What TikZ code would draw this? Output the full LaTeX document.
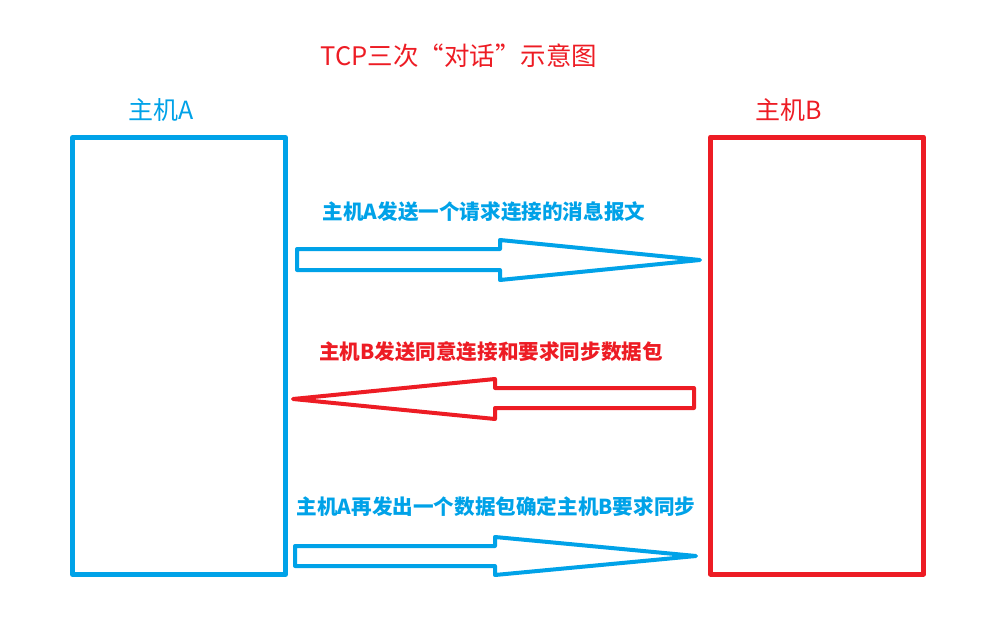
\documentclass[tikz,border=0pt]{standalone}
\usepackage{fontspec}
\newfontfamily\cjk{Noto Sans CJK SC}
\definecolor{hostblue}{HTML}{00A2E8}
\definecolor{hostred}{HTML}{ED1C24}
\begin{document}
\begin{tikzpicture}[x=1pt, y=-1pt, font=\cjk, line join=round, line cap=round,
	host/.style={draw=#1, line width=5pt, minimum width=213pt, minimum height=437pt, inner sep=0pt},
	msg/.style={text=#1, font=\cjk\bfseries\fontsize{20.6pt}{24pt}\selectfont},
	blockarrow/.style={draw=#1, line width=4pt}]
	\useasboundingbox (0,0) rectangle (1002,634);
	\node[text=hostred, font=\cjk\fontsize{25.5pt}{28pt}\selectfont] (title) at (459,56) {TCP三次“对话”示意图};
	% two hosts
	\node[host=hostblue] (hostA) at (179,356) {};
	\node[host=hostred] (hostB) at (817,355.5) {};
	\node[text=hostblue, font=\cjk\fontsize{25pt}{28pt}\selectfont] (labA) at (161,110) {主机A};
	\node[text=hostred, font=\cjk\fontsize{25pt}{28pt}\selectfont] (labB) at (789,110) {主机B};
	% three messages
	\node[msg=hostblue] (msgA) at (484,212) {主机A发送一个请求连接的消息报文};
	\draw[blockarrow=hostblue] (297,249)--(500,249)--(500,240)--(700,260)--(500,280)--(500,270)--(297,270)--cycle;
	\node[msg=hostred] (msgB) at (491,352) {主机B发送同意连接和要求同步数据包};
	\draw[blockarrow=hostred] (694,388)--(495,388)--(495,379)--(293,399)--(495,419)--(495,408)--(694,408)--cycle;
	\node[msg=hostblue] (msgC) at (496,507) {主机A再发出一个数据包确定主机B要求同步};
	\draw[blockarrow=hostblue] (295,546)--(495,546)--(495,537)--(696,556)--(495,575)--(495,566)--(295,566)--cycle;
\end{tikzpicture}
\end{document}
